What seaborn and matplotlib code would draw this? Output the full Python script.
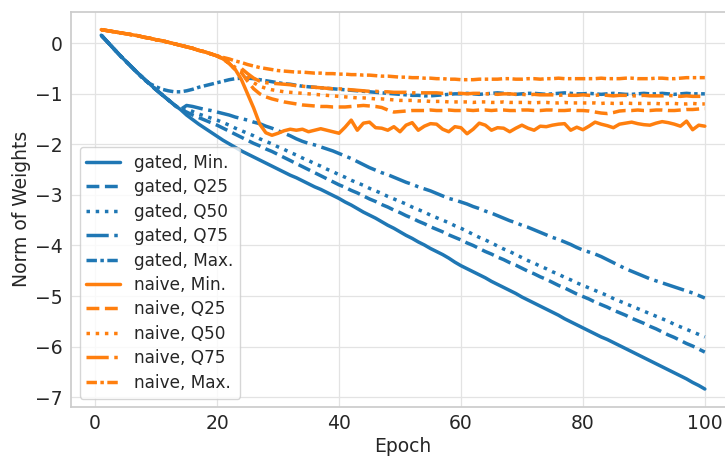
import matplotlib
matplotlib.use("Agg")
import matplotlib.pyplot as plt
import seaborn as sns
import pandas as pd

epochs = list(range(1, 101))

# shared start of the gated curves (epochs 1-7) and the naive curves (epochs 1-20)
gated_start = [0.16, 0.03, -0.10, -0.23, -0.35, -0.47, -0.59]
naive_start = [0.27, 0.25, 0.23, 0.21, 0.19, 0.17, 0.15, 0.12, 0.10, 0.07,
               0.05, 0.02, -0.01, -0.04, -0.07, -0.10, -0.14, -0.17, -0.21, -0.25]

gated_min = gated_start + [
    -0.70, -0.81, -0.92, -1.02, -1.12, -1.22, -1.31,
    -1.42, -1.51, -1.60, -1.68, -1.76, -1.84,
    -1.92, -1.99, -2.06, -2.13, -2.19, -2.25, -2.31, -2.37, -2.43, -2.49,
    -2.55, -2.61, -2.66, -2.72, -2.78, -2.84, -2.89, -2.95, -3.01, -3.07,
    -3.14, -3.20, -3.27, -3.34, -3.40, -3.46, -3.53, -3.60, -3.66, -3.73,
    -3.80, -3.86, -3.93, -3.99, -4.06, -4.12, -4.18, -4.25, -4.33, -4.40,
    -4.46, -4.52, -4.58, -4.64, -4.71, -4.77, -4.83, -4.89, -4.95, -5.02,
    -5.08, -5.14, -5.20, -5.26, -5.32, -5.38, -5.45, -5.51, -5.57, -5.63,
    -5.69, -5.75, -5.81, -5.86, -5.92, -5.98, -6.04, -6.10, -6.16, -6.22,
    -6.28, -6.34, -6.40, -6.46, -6.52, -6.58, -6.64, -6.71, -6.77, -6.84]

gated_q25 = gated_start + [
    -0.70, -0.81, -0.92, -1.02, -1.12, -1.22, -1.31,
    -1.36, -1.42, -1.47, -1.52, -1.57, -1.62,
    -1.68, -1.74, -1.80, -1.86, -1.92, -1.98, -2.03, -2.09, -2.14, -2.20,
    -2.26, -2.32, -2.38, -2.44, -2.50, -2.56, -2.62, -2.68, -2.74, -2.80,
    -2.85, -2.91, -2.96, -3.02, -3.08, -3.13, -3.19, -3.24, -3.30, -3.35,
    -3.41, -3.46, -3.52, -3.57, -3.63, -3.68, -3.73, -3.79, -3.84, -3.89,
    -3.95, -4.00, -4.06, -4.12, -4.17, -4.23, -4.28, -4.34, -4.39, -4.45,
    -4.51, -4.56, -4.62, -4.67, -4.73, -4.79, -4.84, -4.90, -4.96, -5.01,
    -5.06, -5.12, -5.17, -5.22, -5.28, -5.33, -5.38, -5.44, -5.49, -5.54,
    -5.60, -5.65, -5.71, -5.77, -5.82, -5.88, -5.94, -5.99, -6.05, -6.11]

gated_q50 = gated_start + [
    -0.70, -0.81, -0.92, -1.02, -1.12, -1.22, -1.31,
    -1.30, -1.35, -1.40, -1.44, -1.48, -1.52,
    -1.57, -1.62, -1.68, -1.73, -1.78, -1.83, -1.89, -1.94, -1.99, -2.05,
    -2.10, -2.16, -2.21, -2.27, -2.32, -2.38, -2.43, -2.49, -2.54, -2.60,
    -2.65, -2.71, -2.76, -2.81, -2.87, -2.92, -2.97, -3.03, -3.08, -3.13,
    -3.18, -3.24, -3.29, -3.34, -3.40, -3.45, -3.50, -3.55, -3.61, -3.66,
    -3.72, -3.78, -3.84, -3.89, -3.95, -4.01, -4.07, -4.12, -4.18, -4.24,
    -4.30, -4.35, -4.41, -4.46, -4.52, -4.57, -4.63, -4.68, -4.74, -4.79,
    -4.84, -4.89, -4.94, -4.99, -5.05, -5.10, -5.15, -5.20, -5.25, -5.30,
    -5.35, -5.40, -5.45, -5.50, -5.56, -5.61, -5.66, -5.71, -5.76, -5.81]

gated_q75 = gated_start + [
    -0.70, -0.81, -0.92, -1.02, -1.12, -1.22, -1.31,
    -1.23, -1.25, -1.28, -1.31, -1.33, -1.36,
    -1.39, -1.42, -1.46, -1.49, -1.52, -1.56, -1.59, -1.64, -1.68, -1.73,
    -1.78, -1.83, -1.89, -1.94, -1.98, -2.01, -2.05, -2.09, -2.13, -2.18,
    -2.23, -2.28, -2.34, -2.40, -2.46, -2.51, -2.56, -2.60, -2.65, -2.70,
    -2.75, -2.79, -2.84, -2.88, -2.92, -2.97, -3.02, -3.07, -3.10, -3.14,
    -3.18, -3.23, -3.27, -3.32, -3.36, -3.41, -3.46, -3.51, -3.55, -3.60,
    -3.64, -3.69, -3.74, -3.79, -3.84, -3.88, -3.93, -3.98, -4.04, -4.09,
    -4.13, -4.17, -4.22, -4.28, -4.34, -4.40, -4.46, -4.51, -4.56, -4.61,
    -4.66, -4.70, -4.74, -4.78, -4.82, -4.86, -4.90, -4.94, -4.99, -5.04]

gated_max = gated_start + [
    -0.72, -0.80, -0.86, -0.91, -0.94, -0.96, -0.96,
    -0.94, -0.91, -0.87, -0.84, -0.81, -0.78,
    -0.75, -0.72, -0.70, -0.69, -0.69, -0.70, -0.72, -0.74, -0.76, -0.78,
    -0.80, -0.81, -0.83, -0.85, -0.86, -0.87, -0.88, -0.89, -0.90, -0.91,
    -0.92, -0.93, -0.94, -0.95, -0.96, -0.97, -0.98, -0.99, -1.00, -1.01,
    -1.02, -1.03, -1.03, -1.04, -1.04, -1.03, -1.02, -1.01, -1.00, -1.00,
    -0.99, -1.00, -1.01, -1.00, -0.99, -0.98, -0.99, -1.00, -1.01, -1.00,
    -0.99, -0.99, -1.00, -1.01, -1.00, -0.99, -0.98, -0.99, -1.00, -1.00,
    -0.99, -1.00, -1.01, -1.00, -0.99, -1.00, -1.01, -1.01, -1.00, -0.99,
    -1.00, -1.00, -0.99, -1.00, -1.01, -1.00, -0.99, -1.00, -1.00, -1.00]

naive_min = naive_start + [
    -0.31, -0.40, -0.52, -0.72, -1.00, -1.28, -1.60, -1.77, -1.82, -1.78,
    -1.73, -1.70, -1.72, -1.70, -1.75, -1.72, -1.69, -1.72, -1.75, -1.78,
    -1.66, -1.52, -1.72, -1.58, -1.56, -1.67, -1.68, -1.72, -1.65, -1.75,
    -1.62, -1.57, -1.72, -1.64, -1.59, -1.60, -1.70, -1.75, -1.65, -1.67,
    -1.79, -1.70, -1.58, -1.62, -1.72, -1.67, -1.68, -1.75, -1.68, -1.62,
    -1.68, -1.72, -1.64, -1.65, -1.62, -1.60, -1.59, -1.72, -1.66, -1.71,
    -1.64, -1.56, -1.60, -1.63, -1.67, -1.60, -1.58, -1.56, -1.59, -1.61,
    -1.62, -1.58, -1.55, -1.57, -1.60, -1.64, -1.54, -1.71, -1.62, -1.64]

naive_q25 = naive_start + [
    -0.31, -0.40, -0.52, -0.58, -0.75, -0.90, -1.00, -1.06, -1.10, -1.13,
    -1.16, -1.18, -1.20, -1.22, -1.23, -1.24, -1.25, -1.25, -1.26, -1.26,
    -1.26, -1.25, -1.24, -1.23, -1.24, -1.25, -1.27, -1.32, -1.36, -1.35,
    -1.34, -1.33, -1.33, -1.33, -1.32, -1.33, -1.33, -1.32, -1.33, -1.33,
    -1.32, -1.33, -1.32, -1.32, -1.33, -1.32, -1.32, -1.33, -1.33, -1.32,
    -1.32, -1.33, -1.33, -1.32, -1.32, -1.33, -1.33, -1.32, -1.33, -1.33,
    -1.34, -1.36, -1.38, -1.39, -1.37, -1.34, -1.33, -1.33, -1.32, -1.33,
    -1.33, -1.32, -1.32, -1.33, -1.33, -1.32, -1.31, -1.31, -1.30, -1.29]

naive_q50 = naive_start + [
    -0.31, -0.40, -0.52, -0.54, -0.66, -0.78, -0.85, -0.89, -0.92, -0.94,
    -0.96, -0.97, -0.98, -0.99, -1.00, -1.01, -1.02, -1.03, -1.04, -1.05,
    -1.06, -1.07, -1.08, -1.08, -1.09, -1.10, -1.10, -1.11, -1.12, -1.13,
    -1.13, -1.13, -1.14, -1.14, -1.15, -1.15, -1.15, -1.16, -1.16, -1.16,
    -1.16, -1.17, -1.16, -1.16, -1.17, -1.17, -1.16, -1.17, -1.17, -1.17,
    -1.17, -1.18, -1.17, -1.17, -1.18, -1.18, -1.17, -1.18, -1.18, -1.18,
    -1.18, -1.18, -1.19, -1.18, -1.19, -1.19, -1.18, -1.19, -1.19, -1.19,
    -1.19, -1.19, -1.20, -1.19, -1.19, -1.20, -1.20, -1.19, -1.20, -1.20]

naive_q75 = naive_start + [
    -0.30, -0.38, -0.48, -0.50, -0.60, -0.69, -0.75, -0.78, -0.79, -0.80,
    -0.81, -0.82, -0.84, -0.85, -0.86, -0.87, -0.88, -0.89, -0.90, -0.90,
    -0.91, -0.92, -0.93, -0.94, -0.95, -0.95, -0.96, -0.96, -0.97, -0.97,
    -0.97, -0.98, -0.98, -0.98, -0.98, -0.98, -0.99, -0.99, -0.99, -0.99,
    -1.00, -0.99, -0.99, -1.00, -1.00, -1.01, -1.00, -1.00, -1.01, -1.01,
    -1.02, -1.01, -1.02, -1.02, -1.02, -1.03, -1.02, -1.03, -1.03, -1.02,
    -1.03, -1.03, -1.02, -1.03, -1.04, -1.03, -1.03, -1.04, -1.04, -1.03,
    -1.04, -1.04, -1.04, -1.03, -1.04, -1.05, -1.04, -1.05, -1.05, -1.05]

naive_max = naive_start + [
    -0.28, -0.31, -0.35, -0.38, -0.42, -0.45, -0.48, -0.50, -0.52, -0.54,
    -0.55, -0.56, -0.57, -0.57, -0.58, -0.59, -0.59, -0.60, -0.60, -0.61,
    -0.61, -0.62, -0.62, -0.63, -0.63, -0.64, -0.65, -0.65, -0.66, -0.67,
    -0.67, -0.68, -0.68, -0.69, -0.69, -0.70, -0.70, -0.71, -0.71, -0.72,
    -0.72, -0.72, -0.71, -0.71, -0.71, -0.71, -0.70, -0.70, -0.71, -0.71,
    -0.70, -0.70, -0.71, -0.70, -0.70, -0.69, -0.70, -0.70, -0.70, -0.70,
    -0.70, -0.70, -0.69, -0.70, -0.70, -0.70, -0.69, -0.69, -0.70, -0.70,
    -0.70, -0.69, -0.69, -0.70, -0.70, -0.69, -0.68, -0.68, -0.68, -0.68]

series = {
    "gated, Min.": gated_min,
    "gated, Q25": gated_q25,
    "gated, Q50": gated_q50,
    "gated, Q75": gated_q75,
    "gated, Max.": gated_max,
    "naive, Min.": naive_min,
    "naive, Q25": naive_q25,
    "naive, Q50": naive_q50,
    "naive, Q75": naive_q75,
    "naive, Max.": naive_max,
}
labels = list(series.keys())

df = pd.concat(
    [pd.DataFrame({"Epoch": epochs, "Norm of Weights": vals, "run": name})
     for name, vals in series.items()],
    ignore_index=True,
)

palette = {name: ("#1f77b4" if name.startswith("gated") else "#ff7f0e") for name in labels}
stat_dashes = {"Min.": "", "Q25": (3.7, 1.6), "Q50": (1, 1.65), "Q75": (6.4, 1.6, 1, 1.6), "Max.": (3, 1, 1, 1)}
dashes = {name: stat_dashes[name.split(", ")[1]] for name in labels}

sns.set_theme(style="whitegrid", rc={"grid.color": "0.89", "grid.linewidth": 0.9})
fig, ax = plt.subplots(figsize=(7.25, 4.58), dpi=100)

sns.lineplot(data=df, x="Epoch", y="Norm of Weights", hue="run", style="run",
             hue_order=labels, style_order=labels, palette=palette, dashes=dashes,
             linewidth=2.5, ax=ax)

ax.set_xlabel("Epoch", fontsize=13.5, labelpad=3)
ax.set_ylabel("Norm of Weights", fontsize=13.5, labelpad=3)
ax.tick_params(axis="x", labelsize=13.5, length=0, pad=5)
ax.tick_params(axis="y", labelsize=13.5, length=0, pad=6)
ax.set_xticks([0, 20, 40, 60, 80, 100])
ax.legend(loc="lower left", fontsize=12.2, labelspacing=0.38, title=None)

fig.subplots_adjust(left=0.098, right=1.0138, top=0.9745, bottom=0.1114)
fig.savefig("out.png", dpi=100)
